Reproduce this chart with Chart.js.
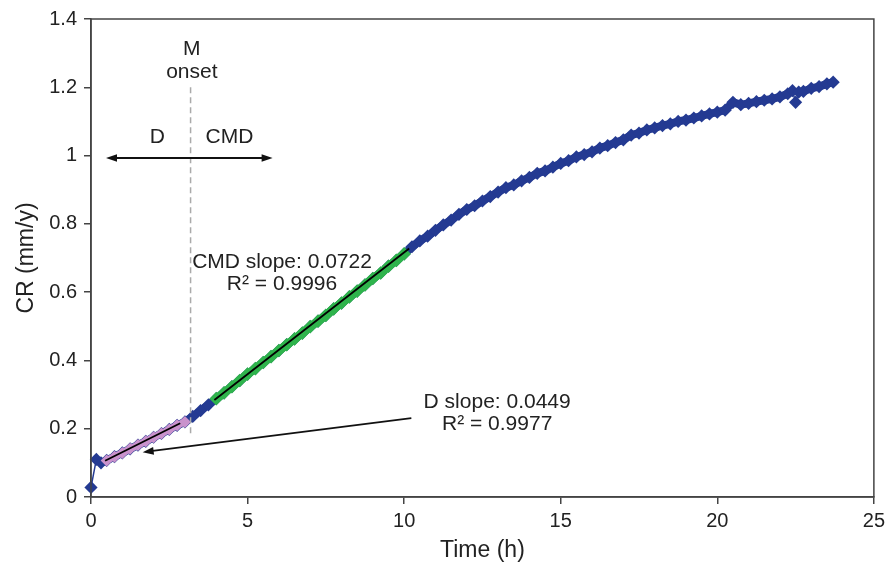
<!DOCTYPE html>
<html>
<head>
<meta charset="utf-8">
<script src="https://cdn.jsdelivr.net/npm/chart.js@4.4.0/dist/chart.umd.min.js"></script>
<style>
  body { margin: 0; background: #fff; }
</style>
</head>
<body>
<canvas id="crChart" width="890" height="567"></canvas>
<script>
// ==========================
// データ
// ==========================
const timeH = [0, 0.17, 0.32, 0.5, 0.75, 1, 1.25, 1.5, 1.75, 2, 2.25, 2.5, 2.75, 3, 3.25, 3.5, 3.75,
  4, 4.25, 4.5, 4.75, 5, 5.25, 5.5, 5.75, 6, 6.25, 6.5, 6.75, 7, 7.25, 7.5, 7.75,
  8, 8.25, 8.5, 8.75, 9, 9.25, 9.5, 9.75, 10, 10.25, 10.5, 10.75, 11, 11.25, 11.5, 11.75,
  12, 12.25, 12.5, 12.75, 13, 13.25, 13.5, 13.75, 14, 14.25, 14.5, 14.75, 15, 15.25, 15.5, 15.75,
  16, 16.25, 16.5, 16.75, 17, 17.25, 17.5, 17.75, 18, 18.25, 18.5, 18.75, 19, 19.25, 19.5, 19.75,
  20, 20.25, 20.5, 20.75, 21, 21.25, 21.5, 21.75, 22, 22.25, 22.4, 22.5, 22.6, 22.75, 23, 23.25, 23.5, 23.7];
const crAll = [0.028, 0.110, 0.100, 0.107, 0.118, 0.129, 0.141, 0.152, 0.163, 0.175, 0.186, 0.198, 0.210, 0.220, 0.236, 0.253, 0.270,
  0.288, 0.305, 0.323, 0.341, 0.360, 0.376, 0.394, 0.411, 0.429, 0.446, 0.463, 0.480, 0.499, 0.515, 0.532, 0.551,
  0.568, 0.586, 0.603, 0.621, 0.640, 0.656, 0.676, 0.693, 0.712, 0.733, 0.750, 0.764, 0.781, 0.797, 0.811, 0.828,
  0.842, 0.853, 0.867, 0.880, 0.893, 0.906, 0.914, 0.926, 0.936, 0.948, 0.955, 0.966, 0.977, 0.985, 0.996, 1.003,
  1.011, 1.022, 1.029, 1.038, 1.046, 1.060, 1.066, 1.075, 1.081, 1.088, 1.093, 1.100, 1.104, 1.110, 1.116, 1.122,
  1.127, 1.133, 1.156, 1.149, 1.153, 1.158, 1.162, 1.166, 1.172, 1.181, 1.190, 1.156, 1.186, 1.188, 1.197, 1.202, 1.210, 1.215];

// D 区間（ピンク）
const dTime = [0.5, 0.75, 1, 1.25, 1.5, 1.75, 2, 2.25, 2.5, 2.75, 3];
const dCR = [0.107, 0.118, 0.129, 0.141, 0.152, 0.163, 0.175, 0.186, 0.198, 0.210, 0.220];

// CMD 区間（緑）
const cmdTime = [4, 4.25, 4.5, 4.75, 5, 5.25, 5.5, 5.75, 6, 6.25, 6.5, 6.75, 7, 7.25, 7.5, 7.75,
  8, 8.25, 8.5, 8.75, 9, 9.25, 9.5, 9.75, 10];
const cmdCR = [0.288, 0.305, 0.323, 0.341, 0.360, 0.376, 0.394, 0.411, 0.429, 0.446, 0.463, 0.480, 0.499, 0.515, 0.532, 0.551,
  0.568, 0.586, 0.603, 0.621, 0.640, 0.656, 0.676, 0.693, 0.712];

// 近似直線の端点
const dFitX = [0.45, 2.85];
const dFitY = [0.106, 0.216];
const cmdFitX = [3.94, 10.16];
const cmdFitY = [0.284, 0.728];

// 目盛り
const xTicks = [0, 5, 10, 15, 20, 25];
const yTicks = [0, 0.2, 0.4, 0.6, 0.8, 1, 1.2, 1.4];

const FONT = '"Liberation Sans", Arial, Helvetica, sans-serif';
const BLUE = "#243a92";
const PINK = "#c992cc";
const GREEN = "#2fb44c";

const toPts = (xs, ys) => xs.map((x, i) => ({ x, y: ys[i] }));

// ==========================
// 矢印
// ==========================
function arrowHead(ctx, x1, y1, x2, y2) {
  const a = Math.atan2(y2 - y1, x2 - x1);
  const len = 11, w = 3.8;
  ctx.beginPath();
  ctx.moveTo(x2, y2);
  ctx.lineTo(x2 - len * Math.cos(a) + w * Math.sin(a), y2 - len * Math.sin(a) - w * Math.cos(a));
  ctx.lineTo(x2 - len * Math.cos(a) - w * Math.sin(a), y2 - len * Math.sin(a) + w * Math.cos(a));
  ctx.closePath();
  ctx.fill();
}

// ==========================
// 注記・枠・軸タイトル
// ==========================
const notes = {
  id: "notes",
  afterDraw(chart) {
    const { ctx, chartArea: a, scales: { x, y } } = chart;
    const px = v => x.getPixelForValue(v);
    const py = v => y.getPixelForValue(v);
    ctx.save();

    // 枠
    ctx.strokeStyle = "#444";
    ctx.lineWidth = 1.5;
    ctx.strokeRect(a.left, a.top, a.right - a.left, a.bottom - a.top);

    // M onset 破線
    ctx.strokeStyle = "#aaa";
    ctx.setLineDash([6, 4]);
    ctx.beginPath();
    ctx.moveTo(px(3.18), py(1.2));
    ctx.lineTo(px(3.18), py(0.18));
    ctx.stroke();
    ctx.setLineDash([]);

    ctx.fillStyle = "#222";
    ctx.strokeStyle = "#111";
    ctx.textAlign = "center";
    ctx.textBaseline = "middle";
    ctx.font = `21px ${FONT}`;
    ctx.fillText("M", px(3.22), py(1.313));
    ctx.fillText("onset", px(3.22), py(1.243));
    ctx.fillText("D", px(2.12), py(1.055));
    ctx.fillText("CMD", px(4.42), py(1.055));
    ctx.fillText("CMD slope: 0.0722", px(6.1), py(0.687));
    ctx.fillText("R\u00b2 = 0.9996", px(6.1), py(0.623));
    ctx.fillText("D slope: 0.0449", px(12.97), py(0.278));
    ctx.fillText("R\u00b2 = 0.9977", px(12.97), py(0.214));

    // 両矢印 D / CMD
    ctx.fillStyle = "#111";
    ctx.lineWidth = 2;
    ctx.beginPath();
    ctx.moveTo(px(0.48) + 6, py(0.993));
    ctx.lineTo(px(5.8) - 6, py(0.993));
    ctx.stroke();
    arrowHead(ctx, px(5.8), py(0.993), px(0.48), py(0.993));
    arrowHead(ctx, px(0.48), py(0.993), px(5.8), py(0.993));

    // D slope 矢印
    ctx.lineWidth = 1.8;
    ctx.beginPath();
    ctx.moveTo(px(10.23), py(0.231));
    ctx.lineTo(px(1.65) + 6, py(0.131) - 1);
    ctx.stroke();
    arrowHead(ctx, px(10.23), py(0.231), px(1.65), py(0.131));

    // 軸タイトル
    ctx.fillStyle = "#222";
    ctx.font = `23px ${FONT}`;
    ctx.fillText("Time (h)", (a.left + a.right) / 2, 551);
    ctx.translate(27, (a.top + a.bottom) / 2);
    ctx.rotate(-Math.PI / 2);
    ctx.fillText("CR (mm/y)", 0, 0);
    ctx.restore();
  }
};

// ==========================
// グラフ表示
// ==========================
const axisCommon = {
  grid: { drawOnChartArea: false, drawTicks: true, tickLength: 7, color: "#444", lineWidth: 1.5 },
  border: { color: "#444", width: 1.5 },
};

// 太い帯にしない区間（最初の立ち上がりと 22.5h の外れ値）
const thinSeg = c => c.p0DataIndex < 2 || timeH[c.p0DataIndex] === 22.5 || timeH[c.p1DataIndex] === 22.5;

new Chart(document.getElementById("crChart").getContext("2d"), {
  type: "scatter",
  data: {
    datasets: [
      { label: "fit D", data: toPts(dFitX, dFitY), showLine: true, borderColor: "#000", borderWidth: 1.8, pointRadius: 0, order: 1 },
      { label: "fit CMD", data: toPts(cmdFitX, cmdFitY), showLine: true, borderColor: "#000", borderWidth: 1.8, pointRadius: 0, order: 1 },
      { label: "D", data: toPts(dTime, dCR), showLine: true, borderColor: PINK, borderWidth: 7,
        pointStyle: "rectRot", pointRadius: 6, backgroundColor: PINK, pointBorderWidth: 0, order: 2 },
      { label: "CMD", data: toPts(cmdTime, cmdCR), showLine: true, borderColor: GREEN, borderWidth: 8.5,
        pointStyle: "rectRot", pointRadius: 6.8, backgroundColor: GREEN, pointBorderWidth: 0, order: 2 },
      { label: "CR", data: toPts(timeH, crAll), showLine: true, borderColor: BLUE, borderWidth: 1.5, clip: false,
        segment: { borderWidth: c => (thinSeg(c) ? 1.5 : 8) },
        pointStyle: "rectRot", pointRadius: 6.6, backgroundColor: BLUE, pointBorderWidth: 0, order: 3 }
    ]
  },
  options: {
    responsive: false,
    animation: false,
    devicePixelRatio: 1,
    layout: { padding: { top: 16, right: 13, bottom: 0, left: 0 } },
    plugins: { legend: { display: false }, tooltip: { enabled: false } },
    scales: {
      x: {
        ...axisCommon,
        type: "linear", min: 0, max: 25,
        afterBuildTicks: s => { s.ticks = xTicks.map(v => ({ value: v })); },
        afterFit: s => { s.height = 70; },
        ticks: { autoSkip: false, maxRotation: 0, padding: 5, color: "#222", font: { family: FONT, size: 20 } }
      },
      y: {
        ...axisCommon,
        min: 0, max: 1.4,
        afterBuildTicks: s => { s.ticks = yTicks.map(v => ({ value: v })); },
        afterFit: s => { s.width = 91; },
        ticks: { padding: 7, color: "#222", font: { family: FONT, size: 20 },
          callback: v => String(Number(v.toFixed(1))) }
      }
    }
  },
  plugins: [notes]
});
</script>
</body>
</html>
